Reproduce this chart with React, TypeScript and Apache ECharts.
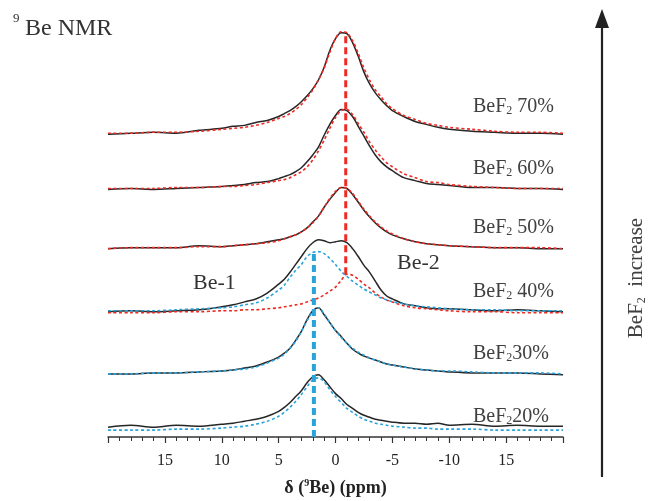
import React, { useEffect, useRef } from "react";
import * as echarts from "echarts";

// chemical shift sample points (ppm)
const ppm = [20, 18, 16, 14, 12, 10, 9, 8, 7, 6, 5, 4.5, 4, 3.5, 3, 2.5, 2, 1.5, 1, 0.5, 0, -0.5, -1, -1.5, -2, -2.5, -3, -3.5, -4, -4.5, -5, -6, -7, -8, -9, -10, -12, -14, -16, -18, -20];

// experimental spectra (intensity above each baseline)
const exp70 = [0, 1, 2, 1, 4, 6, 8, 9, 12, 14, 18, 21, 24, 28, 33, 39, 46, 55, 68, 85, 97, 103, 102, 93, 79, 63, 51, 42, 35, 29, 24, 18, 13, 10, 7, 5, 3, 2, 1, 1, 0];
const exp60 = [0, 1, 0, 1, 2, 3, 4, 5, 7, 8, 11, 13, 15, 18, 22, 28, 35, 43, 55, 66, 75, 81, 80, 74, 64, 54, 44, 35, 28, 23, 19, 12, 9, 6, 5, 4, 2, 2, 1, 1, 0];
const exp50 = [0, 1, 1, 1, 3, 2, 3, 4, 5, 7, 9, 10, 12, 14, 17, 21, 27, 33, 42, 50, 57, 62, 61, 55, 47, 39, 32, 26, 21, 17, 14, 10, 7, 5, 4, 3, 2, 1, 1, 0, 0];
const exp40 = [0, 1, 0, 1, 2, 5, 7, 10, 13, 19, 28, 33, 40, 48, 56, 64, 70, 73, 72, 70, 71, 72, 70, 64, 56, 47, 40, 31, 22, 16, 13, 8, 6, 4, 3, 3, 2, 1, 2, 1, 0];
const exp30 = [0, 0, 1, 1, 2, 3, 4, 6, 8, 12, 17, 21, 26, 34, 43, 55, 64, 67, 60, 52, 44, 38, 31, 25, 21, 18, 16, 14, 12, 10, 9, 7, 5, 4, 3, 2, 1, 1, 1, 0, -1];
const exp20 = [0, 2, 0, 2, 1, 3, 4, 6, 8, 11, 16, 20, 25, 31, 37, 45, 51, 53, 48, 41, 34, 29, 23, 19, 15, 12, 10, 8, 7, 6, 5, 4, 4, 3, 4, 2, 3, 1, 2, 1, 1];

// fitted components
const fit70 = [1, 1, 2, 2, 3, 5, 6, 7, 9, 12, 16, 18, 21, 25, 30, 37, 45, 55, 67, 83, 97, 104, 103, 95, 82, 67, 55, 45, 38, 31, 26, 19, 15, 11, 9, 7, 5, 3, 2, 2, 1];
const fit60 = [1, 1, 1, 2, 2, 3, 3, 4, 5, 7, 9, 10, 12, 15, 18, 23, 30, 39, 50, 62, 73, 80, 81, 76, 67, 58, 48, 40, 33, 27, 23, 16, 12, 8, 7, 5, 3, 2, 1, 1, 1];
const fit50 = [0, 1, 1, 1, 2, 2, 3, 4, 5, 6, 8, 10, 12, 14, 17, 21, 26, 33, 42, 51, 58, 62, 61, 56, 48, 40, 33, 27, 22, 18, 15, 10, 7, 5, 4, 3, 2, 1, 1, 1, 0];
const fit40Be2 = [-1, -1, -1, 0, 0, 1, 1, 2, 2, 3, 4, 5, 6, 7, 8, 10, 12, 14, 17, 21, 25, 32, 38, 37, 33, 28, 24, 19, 15, 12, 10, 6, 4, 3, 2, 1, 0, 0, -1, -1, -1];
const fit40Be1 = [1, 1, 1, 2, 3, 4, 5, 7, 9, 14, 22, 27, 35, 42, 48, 56, 60, 61, 59, 54, 48, 41, 36, 31, 27, 23, 20, 17, 14, 12, 10, 8, 6, 5, 4, 3, 2, 2, 1, 1, 1];
const fit30 = [0, 0, 1, 1, 2, 3, 4, 5, 7, 11, 16, 20, 26, 33, 43, 54, 63, 67, 61, 52, 44, 37, 31, 26, 22, 19, 16, 14, 12, 10, 9, 7, 5, 4, 3, 3, 2, 1, 1, 1, 0];
const fit20 = [-3, -3, -3, -2, -2, -1, 0, 1, 3, 6, 11, 15, 20, 26, 33, 41, 48, 50, 46, 38, 31, 25, 19, 15, 11, 8, 6, 4, 3, 2, 1, 0, -1, -1, -2, -2, -2, -3, -3, -3, -3];

// stacking baselines for 70,60,50,40,30,20 %
const concentrations = ["70%", "60%", "50%", "40%", "30%", "20%"];
const baselines = [307, 251, 191, 127, 64, 10];

// site shifts marked by dashed lines
const be1Shift = 1.9;
const be2Shift = -0.9;

// x tick labels (as printed in the figure)
const tickValues = [15, 10, 5, 0, -5, -10, -15];
const tickLabels = ["15", "10", "5", "0", "-5", "-10", "15"];

const SERIF = "'Liberation Serif', 'Times New Roman', serif";
const BLACK = "#262626";
const RED = "#ee2a24";
const BLUE = "#2aa3db";

function pts(h: number[], base: number) {
  return ppm.map((x, i) => [x, base + h[i]]);
}

export default function App() {
  const ref = useRef<HTMLDivElement>(null);
  useEffect(() => {
    if (!ref.current) return;
    const chart = echarts.init(ref.current, undefined, { renderer: "svg" });
    const exps = [exp70, exp60, exp50, exp40, exp30, exp20];
    const expSeries = exps.map((h, k) => ({
      type: "line",
      name: "BeF2 " + concentrations[k],
      data: pts(h, baselines[k]),
      showSymbol: false,
      smooth: 0.3,
      lineStyle: { color: BLACK, width: 1.5 },
      z: 2,
    }));
    const fits: [number[], number, string][] = [
      [fit70, baselines[0], RED],
      [fit60, baselines[1], RED],
      [fit50, baselines[2], RED],
      [fit40Be2, baselines[3], RED],
      [fit40Be1, baselines[3], BLUE],
      [fit30, baselines[4], BLUE],
      [fit20, baselines[5], BLUE],
    ];
    const fitSeries = fits.map(([h, b, c]) => ({
      type: "line",
      data: pts(h, b),
      showSymbol: false,
      smooth: 0.3,
      lineStyle: { color: c, width: 1.6, type: [3, 2.5] },
      z: 3,
    }));
    const redTop = baselines[0] + Math.max(...exp70);
    const redBottom = baselines[3] + Math.max(...fit40Be2);
    const blueTop = baselines[3] + Math.max(...fit40Be1);
    const vSeries = [
      {
        type: "line",
        data: [[be2Shift, redBottom], [be2Shift, redTop]],
        showSymbol: false,
        lineStyle: { color: RED, width: 3, type: [7, 4] },
        z: 4,
      },
      {
        type: "line",
        data: [[be1Shift, 0], [be1Shift, blueTop]],
        showSymbol: false,
        lineStyle: { color: BLUE, width: 4, type: [7, 4] },
        z: 4,
      },
    ];

    const labelY = [105, 167, 226, 290, 352, 415];
    const labelTexts = concentrations.map((c, k) =>
      k >= 4 ? `{a|BeF}{s|2}{a|${c}}` : `{a|BeF}{s|2}{a| ${c}}`
    );
    const rich = {
      a: { fontSize: 20, fontFamily: SERIF, fill: "#404040", lineHeight: 22 },
      s: { fontSize: 12, fontFamily: SERIF, fill: "#404040", verticalAlign: "bottom", lineHeight: 22, padding: [8, 0, 0, 0] },
    };

    chart.setOption({
      animation: false,
      textStyle: { fontFamily: SERIF },
      grid: { left: 108, right: 85, top: 10, bottom: 58 },
      xAxis: {
        type: "value",
        inverse: true,
        min: -20,
        max: 20,
        interval: 5,
        splitLine: { show: false },
        axisLine: { show: true, lineStyle: { color: "#333", width: 1.5 } },
        axisTick: { show: true, length: 6, lineStyle: { color: "#333", width: 1.2 } },
        minorTick: { show: true, splitNumber: 5, length: 4, lineStyle: { color: "#333", width: 1 } },
        axisLabel: {
          margin: 14,
          fontSize: 16,
          fontFamily: SERIF,
          color: "#222",
          showMinLabel: false,
          showMaxLabel: false,
          formatter: (v: number) => {
            const i = tickValues.indexOf(v);
            return i >= 0 ? tickLabels[i] : "";
          },
        },
        name: "{a|δ (}{s|9}{a|Be) (ppm)}",
        nameLocation: "middle",
        nameGap: 40,
        nameTextStyle: {
          rich: {
            a: { fontSize: 18, fontWeight: "bold", fontFamily: SERIF, color: "#222", lineHeight: 20 },
            s: { fontSize: 10, fontWeight: "bold", fontFamily: SERIF, color: "#222", verticalAlign: "top", lineHeight: 20, padding: [0, 0, 8, 0] },
          },
        },
      },
      yAxis: { type: "value", min: 0, max: 433, show: false },
      series: [...expSeries, ...fitSeries, ...vSeries],
      graphic: [
        { type: "text", x: 13, y: 17, style: { text: "9", fontSize: 13, fontFamily: SERIF, fill: "#333", textVerticalAlign: "middle" } },
        { type: "text", x: 25, y: 27, style: { text: "Be NMR", fontSize: 24, fontFamily: SERIF, fill: "#333", textVerticalAlign: "middle" } },
        ...labelTexts.map((t, k) => ({
          type: "text",
          x: 473,
          y: labelY[k],
          style: { text: t, rich, textVerticalAlign: "middle" },
        })),
        { type: "text", x: 193, y: 281, style: { text: "Be-1", fontSize: 22, fontFamily: SERIF, fill: "#333", textVerticalAlign: "middle" } },
        { type: "text", x: 397, y: 261, style: { text: "Be-2", fontSize: 22, fontFamily: SERIF, fill: "#333", textVerticalAlign: "middle" } },
        { type: "line", shape: { x1: 602, y1: 477, x2: 602, y2: 24 }, style: { stroke: "#222", lineWidth: 2.2 } },
        { type: "polygon", shape: { points: [[595, 28], [602, 9], [609, 28]] }, style: { fill: "#222" } },
        {
          type: "text",
          x: 635,
          y: 278,
          rotation: Math.PI / 2,
          style: {
            text: "{a|BeF}{s|2}{a|  increase}",
            rich: {
              a: { fontSize: 21, fontFamily: SERIF, fill: "#404040", lineHeight: 24 },
              s: { fontSize: 12, fontFamily: SERIF, fill: "#404040", verticalAlign: "bottom", lineHeight: 24, padding: [8, 0, 0, 0] },
            },
            textAlign: "center",
            textVerticalAlign: "middle",
          },
        },
      ],
    });
    return () => chart.dispose();
  }, []);
  return <div ref={ref} style={{ position: "fixed", left: 0, top: 0, width: 648, height: 501 }} />;
}
